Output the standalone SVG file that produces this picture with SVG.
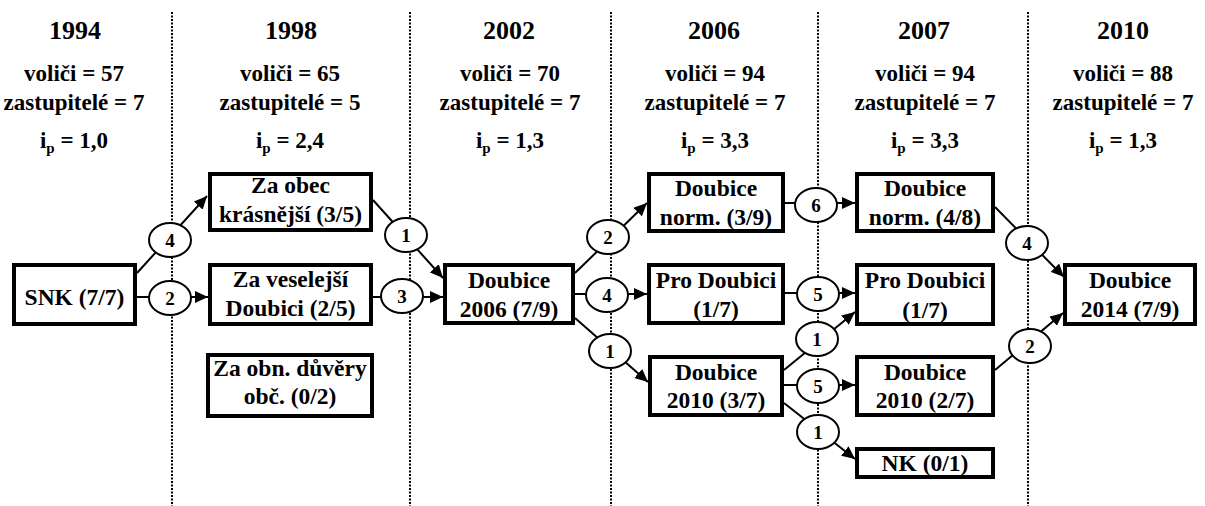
<svg xmlns="http://www.w3.org/2000/svg" width="1205" height="506" viewBox="0 0 1205 506">
<style>
text{font-family:'Liberation Serif','DejaVu Serif',serif;font-weight:bold;fill:#000;text-anchor:middle}
.yr{font-size:26px}
.hd{font-size:23px}
.nt{font-size:23.5px}
.box{fill:#fff;stroke:#000;stroke-width:4}
.grid{stroke:#000;stroke-width:2;stroke-dasharray:2 1.5;fill:none}
.cn{stroke:#000;stroke-width:2;fill:none;marker-end:url(#arr)}
.lb{fill:#fff;stroke:#000;stroke-width:2}
.ln{font-size:19px}
</style>
<defs>
<marker id="arr" markerUnits="userSpaceOnUse" markerWidth="14" markerHeight="12" refX="13" refY="6" orient="auto">
<path d="M0,0 L13,6 L0,12 z" fill="#000"/>
</marker>
</defs>
<rect width="1205" height="506" fill="#fff"/>
<g id="grid">
<line class="grid" x1="172" y1="12" x2="172" y2="506"/>
<line class="grid" x1="410" y1="12" x2="410" y2="506"/>
<line class="grid" x1="611" y1="12" x2="611" y2="506"/>
<line class="grid" x1="818" y1="12" x2="818" y2="506"/>
<line class="grid" x1="1028" y1="12" x2="1028" y2="506"/>
</g>
<g id="headers">
<g id="h1994"><text class="yr" x="75" y="39">1994</text><text class="hd" x="74" y="81">voliči = 57</text><text class="hd" x="74" y="110">zastupitelé = 7</text><text class="hd" x="74" y="148">i<tspan font-size="15" dy="5">p</tspan><tspan dy="-5"> = 1,0</tspan></text></g>
<g id="h1998"><text class="yr" x="291" y="39">1998</text><text class="hd" x="290" y="81">voliči = 65</text><text class="hd" x="290" y="110">zastupitelé = 5</text><text class="hd" x="290" y="148">i<tspan font-size="15" dy="5">p</tspan><tspan dy="-5"> = 2,4</tspan></text></g>
<g id="h2002"><text class="yr" x="509" y="39">2002</text><text class="hd" x="510" y="81">voliči = 70</text><text class="hd" x="510" y="110">zastupitelé = 7</text><text class="hd" x="510" y="148">i<tspan font-size="15" dy="5">p</tspan><tspan dy="-5"> = 1,3</tspan></text></g>
<g id="h2006"><text class="yr" x="714" y="39">2006</text><text class="hd" x="715" y="81">voliči = 94</text><text class="hd" x="715" y="110">zastupitelé = 7</text><text class="hd" x="715" y="148">i<tspan font-size="15" dy="5">p</tspan><tspan dy="-5"> = 3,3</tspan></text></g>
<g id="h2007"><text class="yr" x="924" y="39">2007</text><text class="hd" x="925" y="81">voliči = 94</text><text class="hd" x="925" y="110">zastupitelé = 7</text><text class="hd" x="925" y="148">i<tspan font-size="15" dy="5">p</tspan><tspan dy="-5"> = 3,3</tspan></text></g>
<g id="h2010"><text class="yr" x="1123" y="39">2010</text><text class="hd" x="1123" y="81">voliči = 88</text><text class="hd" x="1123" y="110">zastupitelé = 7</text><text class="hd" x="1123" y="148">i<tspan font-size="15" dy="5">p</tspan><tspan dy="-5"> = 1,3</tspan></text></g>
</g>
<g id="connectors">
<line class="cn" x1="137" y1="273" x2="207" y2="196"/>
<line class="cn" x1="137" y1="297" x2="208" y2="297"/>
<line class="cn" x1="373" y1="200" x2="443" y2="278"/>
<line class="cn" x1="373" y1="297" x2="443" y2="297"/>
<line class="cn" x1="575" y1="273" x2="647" y2="203"/>
<line class="cn" x1="575" y1="294" x2="647" y2="294"/>
<line class="cn" x1="575" y1="318" x2="648" y2="382"/>
<line class="cn" x1="785" y1="203" x2="855" y2="203"/>
<line class="cn" x1="785" y1="293" x2="855" y2="293"/>
<line class="cn" x1="784" y1="370" x2="855" y2="312"/>
<line class="cn" x1="784" y1="385" x2="855" y2="385"/>
<line class="cn" x1="784" y1="403" x2="855" y2="459"/>
<line class="cn" x1="995" y1="207" x2="1064" y2="277"/>
<line class="cn" x1="995" y1="370" x2="1063" y2="313"/>
<g id="labels">
<ellipse class="lb" cx="170" cy="240" rx="21" ry="17"/><text class="ln" x="170" y="247">4</text>
<ellipse class="lb" cx="170" cy="298" rx="21" ry="17"/><text class="ln" x="170" y="305">2</text>
<ellipse class="lb" cx="406" cy="235" rx="21" ry="17"/><text class="ln" x="406" y="242">1</text>
<ellipse class="lb" cx="402" cy="296" rx="21" ry="17"/><text class="ln" x="402" y="303">3</text>
<ellipse class="lb" cx="608" cy="237" rx="21" ry="17"/><text class="ln" x="608" y="244">2</text>
<ellipse class="lb" cx="607" cy="295" rx="21" ry="17"/><text class="ln" x="607" y="302">4</text>
<ellipse class="lb" cx="610" cy="351" rx="21" ry="17"/><text class="ln" x="610" y="358">1</text>
<ellipse class="lb" cx="816" cy="205" rx="21" ry="17"/><text class="ln" x="816" y="212">6</text>
<ellipse class="lb" cx="818" cy="294" rx="21" ry="17"/><text class="ln" x="818" y="301">5</text>
<ellipse class="lb" cx="817" cy="339" rx="21" ry="17"/><text class="ln" x="817" y="346">1</text>
<ellipse class="lb" cx="818" cy="386" rx="21" ry="17"/><text class="ln" x="818" y="393">5</text>
<ellipse class="lb" cx="818" cy="432" rx="21" ry="17"/><text class="ln" x="818" y="439">1</text>
<ellipse class="lb" cx="1027" cy="243" rx="21" ry="17"/><text class="ln" x="1027" y="250">4</text>
<ellipse class="lb" cx="1030" cy="346" rx="21" ry="17"/><text class="ln" x="1030" y="353">2</text>
</g>
</g>
<g id="n_snk"><rect class="box" x="14" y="265" width="121" height="59"/><text class="nt" x="74.5" y="305">SNK (7/7)</text></g>
<g id="n_zaobec"><rect class="box" x="210" y="174" width="161" height="56"/><text class="nt" x="290.5" y="193">Za obec</text><text class="nt" x="290.5" y="222">krásnější (3/5)</text></g>
<g id="n_zavesel"><rect class="box" x="210" y="265" width="161" height="59"/><text class="nt" x="290.5" y="287">Za veselejší</text><text class="nt" x="290.5" y="316">Doubici (2/5)</text></g>
<g id="n_zaobn"><rect class="box" x="208" y="355" width="164" height="61"/><text class="nt" x="290" y="376">Za obn. důvěry</text><text class="nt" x="290" y="404">obč. (0/2)</text></g>
<g id="n_d2006"><rect class="box" x="445" y="265" width="128" height="58"/><text class="nt" x="509" y="288">Doubice</text><text class="nt" x="509" y="317">2006 (7/9)</text></g>
<g id="n_dnorm39"><rect class="box" x="649" y="174" width="134" height="57"/><text class="nt" x="716" y="196">Doubice</text><text class="nt" x="716" y="225">norm. (3/9)</text></g>
<g id="n_pro06"><rect class="box" x="649" y="265" width="134" height="58"/><text class="nt" x="716" y="288">Pro Doubici</text><text class="nt" x="716" y="317">(1/7)</text></g>
<g id="n_d2010a"><rect class="box" x="650" y="357" width="132" height="58"/><text class="nt" x="716" y="380">Doubice</text><text class="nt" x="716" y="408">2010 (3/7)</text></g>
<g id="n_dnorm48"><rect class="box" x="857" y="174" width="136" height="57"/><text class="nt" x="925" y="196">Doubice</text><text class="nt" x="925" y="225">norm. (4/8)</text></g>
<g id="n_pro07"><rect class="box" x="857" y="265" width="136" height="59"/><text class="nt" x="925" y="288">Pro Doubici</text><text class="nt" x="925" y="318">(1/7)</text></g>
<g id="n_d2010b"><rect class="box" x="857" y="357" width="136" height="58"/><text class="nt" x="925" y="380">Doubice</text><text class="nt" x="925" y="408">2010 (2/7)</text></g>
<g id="n_nk"><rect class="box" x="857" y="449" width="136" height="28"/><text class="nt" x="925" y="471">NK (0/1)</text></g>
<g id="n_d2014"><rect class="box" x="1065" y="265" width="130" height="59"/><text class="nt" x="1130" y="288">Doubice</text><text class="nt" x="1130" y="317">2014 (7/9)</text></g>
</svg>
